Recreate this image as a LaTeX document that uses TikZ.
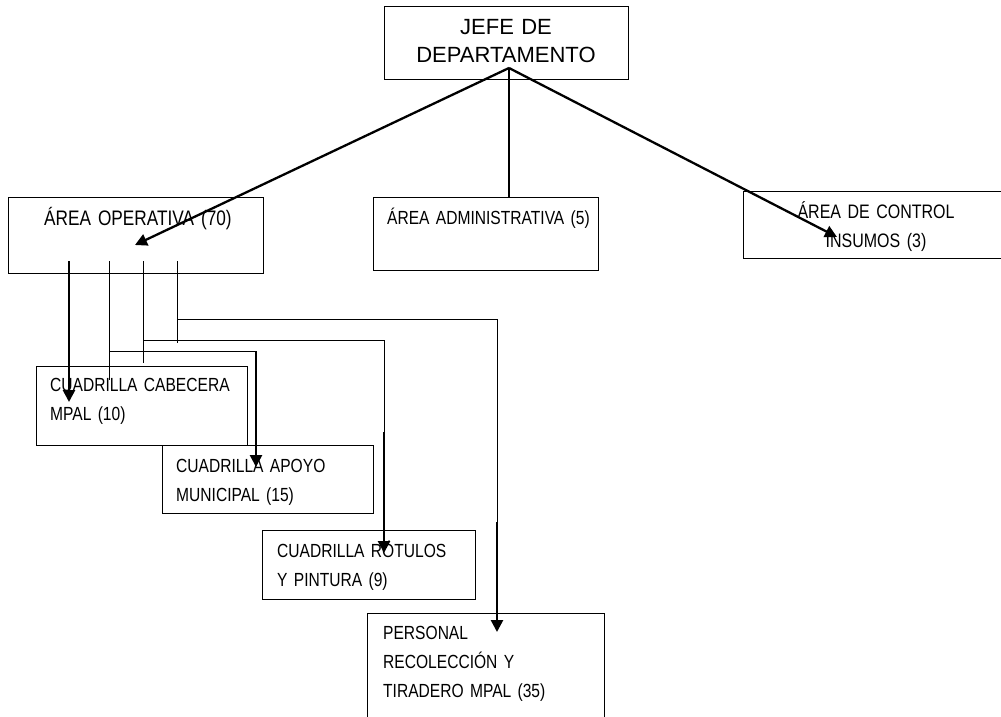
\documentclass[tikz,border=0pt]{standalone}
\usepackage{fontspec}
\setmainfont{Liberation Sans}
\newfontfamily\narrowfont{Liberation Sans}[FakeStretch=0.82]
\newcommand{\lowfont}[1]{\narrowfont\fontsize{#1}{29}\selectfont\spaceskip=3.6pt\relax}
\usetikzlibrary{arrows.meta}
\tikzset{
  boxshape/.style={draw=black, line width=1.2pt, rectangle, inner sep=0pt, anchor=north west},
  lbl/.style={anchor=base west, inner sep=0pt, text width=260pt, align=left,
    font=\lowfont{19}},
  biglbl/.style={lbl, font=\lowfont{21}},
  ctrlbl/.style={anchor=base, inner sep=0pt, text width=240pt, align=center,
    font=\lowfont{19.5}},
  headlbl/.style={anchor=base, inner sep=0pt, text width=240pt, align=center,
    font=\fontsize{22}{28}\selectfont},
  thin/.style={line width=0.9pt},
  heavy/.style={line width=2.6pt},
  diag/.style={line width=2.3pt},
  tipd/.style={-{Triangle[length=12pt,width=12pt]}},
}
\begin{document}
\begin{tikzpicture}[x=1pt,y=-1pt]
\useasboundingbox (0,0) rectangle (1001,717);
\clip (0,0) rectangle (1001,717);

% boxes
\node[boxshape, minimum width=244pt, minimum height=73pt] (jefe) at (384,6) {};
\node[boxshape, minimum width=255pt, minimum height=76pt] (op) at (8,197) {};
\node[boxshape, minimum width=225pt, minimum height=73pt] (adm) at (373,197) {};
\node[boxshape, minimum width=280pt, minimum height=67pt] (ctrl) at (743,191) {};
\node[boxshape, minimum width=211pt, minimum height=79pt] (cab) at (36,366) {};
\node[boxshape, minimum width=211pt, minimum height=68pt] (apo) at (162,445) {};
\node[boxshape, minimum width=213pt, minimum height=69pt] (rot) at (262,530) {};
\node[boxshape, minimum width=237pt, minimum height=130pt] (per) at (367,613) {};

% texts
\node[headlbl] (jefetxt) at (506,35) {JEFE DE\\DEPARTAMENTO};
\node[biglbl] (optxt) at (44,225) {ÁREA OPERATIVA (70)};
\node[lbl] (admtxt) at (387,224) {ÁREA ADMINISTRATIVA (5)};
\node[ctrlbl] (ctrltxt) at (876,218) {ÁREA DE CONTROL\\INSUMOS (3)};
\node[lbl] (cabtxt) at (50,391) {CUADRILLA CABECERA\\MPAL (10)};
\node[lbl] (apotxt) at (176,472) {CUADRILLA APOYO\\MUNICIPAL (15)};
\node[lbl] (rottxt) at (277,557) {CUADRILLA RÓTULOS\\Y PINTURA (9)};
\node[lbl] (pertxt) at (383,639) {PERSONAL\\RECOLECCIÓN Y\\TIRADERO MPAL (35)};

% top connectors
\coordinate (apex) at (509,68);
\coordinate (opin) at (135,245);
\coordinate (ctrlin) at (837,237);
\draw[diag, tipd] (apex) -- (opin);
\draw[diag] (apex) -- (apex |- adm.north);
\draw[diag, tipd] (apex) -- (ctrlin);

% lower connectors
\coordinate (s1) at (69,261);
\coordinate (s2) at (109,261);
\coordinate (s3) at (143,261);
\coordinate (s4) at (177,261);
\coordinate (cabin) at (69,402);
\coordinate (j2) at (109,351);
\coordinate (e2) at (109,380);
\coordinate (k2) at (256,351);
\coordinate (apoin) at (256,467);
\coordinate (j3) at (143,340);
\coordinate (e3) at (143,363);
\coordinate (k3) at (384,340);
\coordinate (m3) at (384,432);
\coordinate (rotin) at (384,553);
\coordinate (j4) at (177,319);
\coordinate (e4) at (177,343);
\coordinate (k4) at (497,319);
\coordinate (m4) at (497,522);
\coordinate (perin) at (497,632);

\draw[heavy, tipd] (s1) -- (cabin);
\draw[thin] (s2) -- (e2);
\draw[thin] (j2) -- (k2);
\draw[heavy, tipd] (k2) -- (apoin);
\draw[thin] (s3) -- (e3);
\draw[thin] (j3) -- (k3) -- (m3);
\draw[heavy, tipd] (m3) -- (rotin);
\draw[thin] (s4) -- (e4);
\draw[thin] (j4) -- (k4) -- (m4);
\draw[heavy, tipd] (m4) -- (perin);
\end{tikzpicture}
\end{document}
